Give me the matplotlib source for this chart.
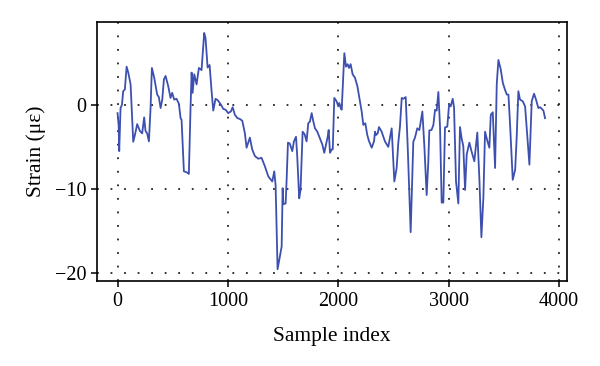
import matplotlib
matplotlib.use("Agg")
import matplotlib.pyplot as plt

# Strain trace (sample index, strain in micro-strain)
sample_idx = [
    0, 10, 15, 27, 40, 51, 66, 82, 97, 118, 142, 157, 178, 202, 223, 241, 253,
    268, 284, 299, 311, 332, 359, 374, 390, 405, 420, 435, 459, 480, 495, 513,
    534, 556, 571, 580, 601, 625, 646, 662, 671, 680, 695, 716, 737, 761, 785,
    797, 816, 834, 852, 867, 888, 910, 937, 958, 979, 1003, 1027, 1043, 1063,
    1087, 1109, 1130, 1154, 1169, 1184, 1199, 1220, 1245, 1275, 1305, 1335,
    1366, 1402, 1420, 1432, 1450, 1462, 1487, 1496, 1502, 1523, 1532, 1544,
    1560, 1583, 1598, 1617, 1628, 1646, 1658, 1677, 1695, 1713, 1728, 1743,
    1759, 1774, 1789, 1810, 1834, 1855, 1873, 1889, 1904, 1913, 1925, 1940,
    1950, 1964, 1985, 2000, 2009, 2022, 2031, 2055, 2070, 2085, 2097, 2112,
    2130, 2151, 2173, 2197, 2212, 2227, 2245, 2263, 2278, 2303, 2324, 2333,
    2342, 2357, 2369, 2393, 2423, 2453, 2484, 2508, 2529, 2544, 2559, 2575,
    2590, 2611, 2629, 2656, 2680, 2695, 2716, 2735, 2762, 2780, 2801, 2816,
    2825, 2845, 2862, 2877, 2892, 2907, 2922, 2937, 2952, 2967, 2988, 3004,
    3019, 3037, 3049, 3067, 3088, 3103, 3118, 3133, 3149, 3164, 3188, 3209,
    3233, 3260, 3279, 3297, 3315, 3330, 3345, 3369, 3382, 3400, 3421, 3436,
    3451, 3472, 3491, 3510, 3527, 3542, 3557, 3581, 3603, 3617, 3632, 3647,
    3672, 3693, 3713, 3732, 3738, 3753, 3774, 3792, 3813, 3830, 3845, 3859,
    3874,
]
strain = [
    -1.0, -2.5, -5.5, -0.4, 0.0, 1.6, 1.8, 4.5, 3.8, 2.4, -4.4, -3.6, -2.3,
    -3.1, -3.4, -1.5, -3.1, -3.4, -4.35, -0.4, 4.35, 3.2, 1.2, 0.9, -0.4, 0.6,
    3.0, 3.4, 2.2, 0.8, 1.4, 0.6, 0.7, 0.1, -1.6, -1.8, -7.9, -8.0, -8.2, 0.0,
    3.8, 1.4, 3.6, 2.4, 4.35, 4.1, 8.5, 7.9, 4.4, 4.7, 1.6, -0.7, 0.7, 0.5,
    0.0, -0.5, -0.6, -1.0, -0.8, -0.3, -1.2, -1.6, -1.7, -1.9, -3.4, -5.1,
    -4.5, -3.9, -5.3, -6.1, -6.4, -6.3, -7.3, -8.5, -9.1, -7.9, -9.5, -19.5,
    -18.6, -16.8, -9.9, -11.8, -11.7, -8.9, -4.5, -4.6, -5.5, -4.35, -3.8,
    -6.1, -11.1, -10.1, -3.2, -3.5, -4.35, -2.2, -2.0, -1.0, -2.0, -2.8, -3.2,
    -4.0, -4.7, -5.7, -4.7, -3.8, -3.0, -5.7, -5.3, -5.3, 0.8, 0.4, -0.2, 0.2,
    -0.4, -0.6, 6.1, 4.5, 4.8, 4.35, 4.8, 3.6, 3.2, 2.2, 0.4, -0.8, -2.4,
    -2.2, -3.6, -4.3, -5.1, -4.35, -3.2, -3.6, -3.4, -2.65, -3.2, -4.35, -5.0,
    -2.8, -9.1, -7.5, -4.5, -2.6, 0.8, 0.7, 0.9, -4.9, -15.1, -4.4, -3.9,
    -2.8, -3.0, -0.8, -4.9, -10.7, -6.7, -3.05, -3.0, -2.4, -0.6, -0.7, 1.5,
    -2.6, -11.6, -11.6, -2.7, -2.6, 0.0, -0.2, 0.7, -0.3, -9.1, -11.7, -2.65,
    -4.0, -4.9, -10.1, -5.9, -4.5, -5.6, -6.7, -3.3, -8.9, -15.7, -11.0, -3.2,
    -4.0, -5.1, -1.2, -0.9, -7.5, 2.4, 5.3, 4.2, 2.6, 1.8, 1.2, 1.2, -2.4,
    -8.9, -7.7, -3.8, 1.6, 0.6, 0.4, -0.2, -3.8, -7.1, -4.9, 0.4, 1.3, 0.6,
    -0.4, -0.3, -0.5, -0.7, -1.6,
]
x_ticks = [0, 1000, 2000, 3000, 4000]
y_ticks = [-20, -10, 0]

plt.rcParams['font.family'] = ['Liberation Serif', 'DejaVu Serif']

fig = plt.figure(figsize=(6.0, 3.66), dpi=100)
ax = fig.add_axes([0.161, 0.232, 0.7835, 0.708])

ax.plot(sample_idx, strain, color='#3d50b0', linewidth=1.3)

ax.set_xlim(-190, 4070)
ax.set_ylim(-20.9, 9.8)
ax.set_xticks(x_ticks)
ax.set_yticks(y_ticks)

# dotted grid, sparse dots like the original
ax.grid(True, color='#222222', linestyle=(0, (1.0, 6.5)), linewidth=1.3)

for s in ax.spines.values():
    s.set_linewidth(1.2)
ax.tick_params(direction='out', length=4, width=1.1, labelsize=14.5)

ax.set_xlabel('Sample index', fontsize=15.5, labelpad=12)
ax.set_ylabel('Strain (με)', fontsize=15.5, labelpad=6)

fig.savefig('out.png', dpi=100)
